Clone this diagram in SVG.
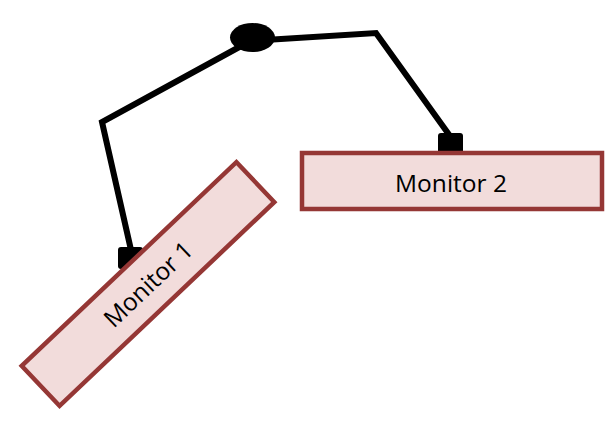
<svg xmlns="http://www.w3.org/2000/svg" width="613" height="422" viewBox="0 0 613 422">
<style>
.arm{fill:none;stroke:#000;stroke-width:6;stroke-linejoin:miter;stroke-linecap:butt}
.mount{fill:#000}
.mon{fill:#f2dcdb;stroke:#953735;stroke-width:4.5}
.lbl{font-family:"Open Sans","Liberation Sans",sans-serif;font-size:24.5px;fill:#000;text-anchor:middle}
</style>
<rect width="613" height="422" fill="#fff"/>
<g id="connectors">
<polyline class="arm" points="243,45 102,122 131,250"/>
<polyline class="arm" points="265,40 376,33 450,136"/>
</g>
<g id="hub">
<ellipse cx="252.5" cy="37.5" rx="22.5" ry="14.5" fill="#000"/>
</g>
<g id="mount1">
<rect class="mount" x="118" y="247" width="25" height="22" rx="3"/>
</g>
<g id="mount2">
<rect class="mount" x="438" y="133" width="25" height="22" rx="3"/>
</g>
<g id="monitor2">
<rect class="mon" x="302" y="153" width="300" height="56"/>
<text class="lbl" x="451" y="192">Monitor 2</text>
</g>
<g id="monitor1" transform="translate(148,284) rotate(-43.5)">
<rect class="mon" x="-148" y="-27.5" width="296" height="55"/>
<text class="lbl" x="0" y="9">Monitor 1</text>
</g>
</svg>
